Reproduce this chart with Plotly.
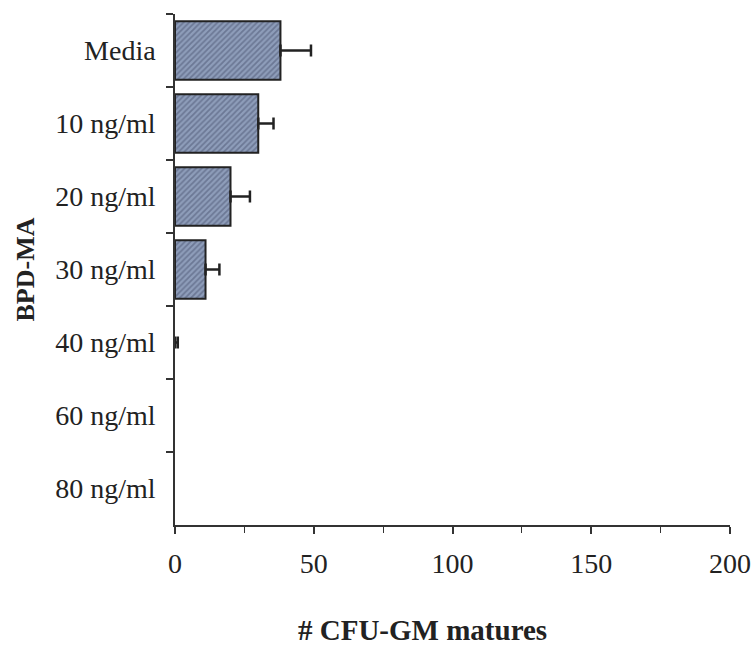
import plotly.graph_objects as go

categories = ["Media", "10 ng/ml", "20 ng/ml", "30 ng/ml", "40 ng/ml", "60 ng/ml", "80 ng/ml"]
values = [38, 30, 20, 11, 0, 0, 0]
errors = [11, 5.5, 7, 5, 1, None, None]
x_ticks = [0, 50, 100, 150, 200]

serif = "Liberation Serif, Times New Roman, serif"

outline_widths = [2 if v > 0 else 0 for v in values]

# error bars only where an error was measured
err_idx = [i for i, e in enumerate(errors) if e is not None]
err_cats = [categories[i] for i in err_idx]
err_vals = [values[i] for i in err_idx]
err_plus = [errors[i] for i in err_idx]

L, R, T, B = 175, 24, 14, 127
W, H = 754, 652
plot_w = W - L - R

fig = go.Figure()
fig.add_trace(go.Bar(
    y=categories, x=values, orientation="h", width=0.8,
    marker=dict(
        color="#8e9dba",
        line=dict(color="#222222", width=outline_widths),
        pattern=dict(shape="/", size=4, solidity=0.45, fgcolor="#4a5470", bgcolor="#8e9dba"),
    ),
    showlegend=False, hoverinfo="x+y",
))
fig.add_trace(go.Scatter(
    y=err_cats, x=err_vals, mode="markers",
    marker=dict(size=1, opacity=0),
    error_x=dict(type="data", symmetric=False, array=err_plus, arrayminus=[0] * len(err_plus),
                 color="#222222", thickness=2.5, width=6),
    showlegend=False, hoverinfo="skip",
))

fig.update_layout(
    width=W, height=H,
    margin=dict(l=L, r=R, t=T, b=B, autoexpand=False),
    plot_bgcolor="white", paper_bgcolor="white",
    font=dict(family=serif, color="#222222"),
    xaxis=dict(
        range=[0, 200], tickvals=x_ticks, ticktext=[str(v) for v in x_ticks],
        showgrid=False, zeroline=False, automargin=False,
        showline=True, linecolor="#333333", linewidth=1.5,
        ticks="outside", ticklen=7, tickcolor="#333333", tickwidth=1.5,
        minor=dict(dtick=25, ticks="outside", ticklen=6, tickcolor="#333333", tickwidth=1.2),
        tickfont=dict(size=28, family=serif, color="#222222"),
        ticklabelstandoff=6, ticklabeloverflow="allow",
    ),
    yaxis=dict(
        categoryorder="array", categoryarray=categories,
        range=[6.5, -0.5], autorange=False, automargin=False,
        showgrid=False, zeroline=False,
        showline=True, linecolor="#333333", linewidth=1.5,
        ticks="outside", tickson="boundaries", ticklen=7, tickcolor="#333333", tickwidth=1.5,
        tickfont=dict(size=28, family=serif, color="#222222"),
        ticklabelstandoff=12,
    ),
    annotations=[
        dict(text="<b>BPD-MA</b>", x=(25 - L) / plot_w, y=0.5, xref="paper", yref="paper",
             showarrow=False, textangle=-90, font=dict(size=26, family=serif, color="#222222"),
             xanchor="center", yanchor="middle"),
        dict(text="<b># CFU-GM matures</b>", x=(422 - L) / plot_w, y=-0.205, xref="paper", yref="paper",
             showarrow=False, font=dict(size=29, family=serif, color="#222222"),
             xanchor="center", yanchor="middle"),
    ],
)

fig.write_html("out.html")
